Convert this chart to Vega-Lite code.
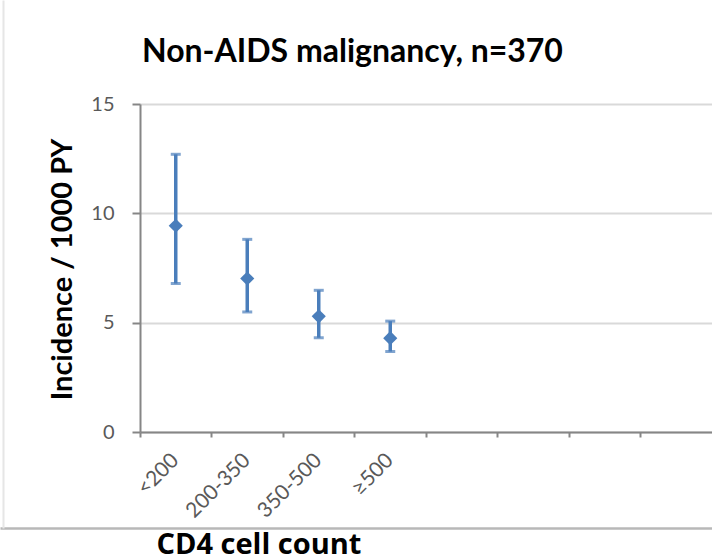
{
  "$schema": "https://vega.github.io/schema/vega-lite/v6.json",
  "autosize": "none",
  "width": 572,
  "height": 328,
  "padding": {"left": 140, "top": 104, "right": 0, "bottom": 128},
  "background": "white",
  "config": {"view": {"stroke": null}, "font": "Lato"},
  "title": {
    "text": "Non-AIDS malignancy, n=370",
    "font": "Lato",
    "fontSize": 32,
    "fontWeight": "bold",
    "color": "#000000",
    "frame": "group",
    "anchor": "start",
    "dx": 2,
    "dy": 5,
    "baseline": "alphabetic",
    "offset": 5
  },
  "data": {
    "values": [
      {"cat": "<200", "est": 9.43, "lo": 6.79, "hi": 12.7},
      {"cat": "200-350", "est": 7.02, "lo": 5.49, "hi": 8.81},
      {"cat": "350-500", "est": 5.29, "lo": 4.31, "hi": 6.48},
      {"cat": "≥500", "est": 4.29, "lo": 3.68, "hi": 5.07}
    ]
  },
  "layer": [
    {
      "encoding": {
        "x": {
          "field": "cat",
          "type": "nominal",
          "scale": {
            "domain": ["<200", "200-350", "350-500", "≥500", " ", "  ", "   ", "    "],
            "paddingInner": 0,
            "paddingOuter": 0
          },
          "axis": {
            "title": null,
            "bandPosition": 0,
            "labelAngle": -45,
            "labelAlign": "right",
            "labelBaseline": "middle",
            "labelFont": "Lato",
            "labelFontSize": 21,
            "labelColor": "#595959",
            "labelPadding": 20,
            "domainColor": "#868686",
            "domainWidth": 2,
            "tickColor": "#868686",
            "tickWidth": 2,
            "tickSize": 5,
            "grid": false
          }
        },
        "y": {
          "type": "quantitative",
          "scale": {"domain": [0, 15], "nice": false},
          "axis": {
            "title": "Incidence / 1000 PY",
            "titleFont": "Lato",
            "titleFontSize": 29,
            "titleFontWeight": "bold",
            "titleColor": "#000000",
            "titleX": -78,
            "titleY": 165,
            "titleAngle": -90,
            "titleAlign": "center",
            "titleBaseline": "middle",
            "values": [0, 5, 10, 15],
            "labelFont": "Lato",
            "labelFontSize": 20,
            "labelColor": "#595959",
            "labelPadding": 18,
            "domainColor": "#868686",
            "domainWidth": 2,
            "tickColor": "#868686",
            "tickWidth": 2,
            "tickSize": 8,
            "grid": true,
            "gridColor": "#d9d9d9",
            "gridWidth": 2
          }
        }
      },
      "layer": [
        {
          "mark": {"type": "rule", "color": "#4a7ebb", "strokeWidth": 3.5},
          "encoding": {"y": {"field": "lo"}, "y2": {"field": "hi"}}
        },
        {
          "mark": {"type": "tick", "color": "#4a7ebb", "thickness": 3, "size": 10},
          "encoding": {"y": {"field": "lo"}}
        },
        {
          "mark": {"type": "tick", "color": "#4a7ebb", "thickness": 3, "size": 10},
          "encoding": {"y": {"field": "hi"}}
        },
        {
          "mark": {"type": "point", "shape": "diamond", "filled": true, "color": "#4a7ebb", "size": 200, "opacity": 1},
          "encoding": {"y": {"field": "est"}}
        }
      ]
    },
    {
      "mark": {"type": "point", "opacity": 0},
      "encoding": {
        "x": {
          "field": "est",
          "type": "quantitative",
          "scale": {"domain": [0, 15], "nice": false, "range": [-140, 572]},
          "axis": {
            "orient": "bottom",
            "offset": 96,
            "labels": false,
            "ticks": false,
            "grid": false,
            "domain": true,
            "domainColor": "#b8b8b8",
            "domainWidth": 2.5,
            "domainOpacity": 1,
            "title": "CD4 cell count",
            "titleFont": "Open Sans",
            "titleFontSize": 29,
            "titleFontWeight": "bold",
            "titleColor": "#000000",
            "titleX": 16,
            "titleY": 25,
            "titleAlign": "left",
            "titleBaseline": "alphabetic"
          }
        },
        "y": {
          "field": "est",
          "type": "quantitative",
          "scale": {"domain": [0, 15], "nice": false, "range": [424, -104]},
          "axis": {
            "orient": "left",
            "offset": 137,
            "labels": false,
            "ticks": false,
            "grid": false,
            "title": null,
            "domainColor": "#e6e6e6",
            "domainWidth": 2
          }
        }
      }
    }
  ],
  "resolve": {
    "scale": {"x": "independent", "y": "independent"},
    "axis": {"x": "independent", "y": "independent"}
  }
}
